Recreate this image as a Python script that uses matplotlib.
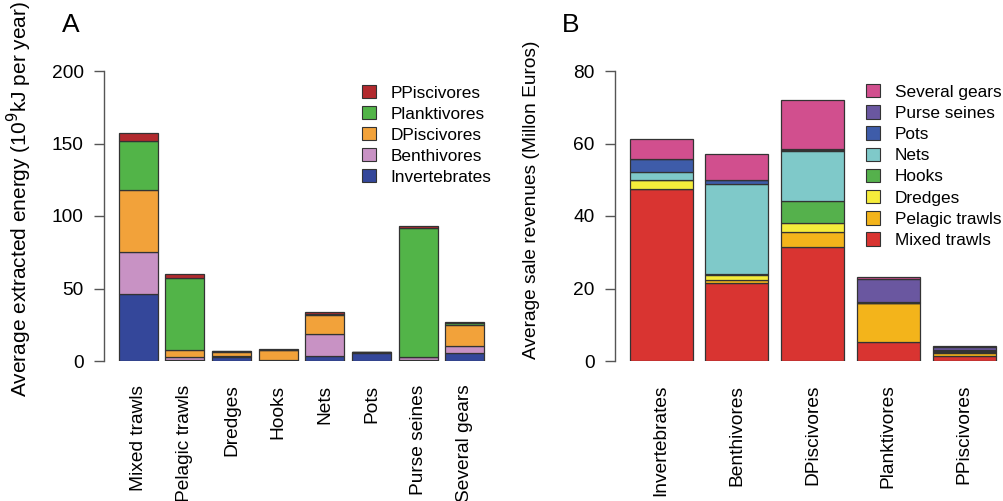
import matplotlib
matplotlib.use("Agg")
import matplotlib.pyplot as plt
from matplotlib.patches import Patch
import numpy as np

plt.rcParams['font.family'] = ['Liberation Sans', 'DejaVu Sans']

# ---- Panel A data (extracted energy by gear) ----
gears = ['Mixed trawls', 'Pelagic trawls', 'Dredges', 'Hooks', 'Nets', 'Pots',
         'Purse seines', 'Several gears']
inv_A = [46, 0.7, 3.0, 0.3, 3.5, 5.8, 0.8, 5.5]
benth_A = [29, 1.8, 0.5, 0.2, 15.0, 0.2, 1.7, 5.0]
dpisc_A = [43, 5.1, 2.8, 7.0, 13.5, 0.1, 0.3, 14.2]
plank_A = [34, 49.7, 0.3, 0.2, 0.5, 0.1, 89.0, 1.5]
ppisc_A = [5, 2.7, 0.5, 0.5, 1.3, 0.1, 1.5, 0.8]
series_A_names = ['Invertebrates', 'Benthivores', 'DPiscivores', 'Planktivores', 'PPiscivores']
series_A_colors = ['#34479A', '#C892C4', '#F2A23A', '#52B448', '#B22A2E']

# ---- Panel B data (sale revenues by functional group) ----
groups = ['Invertebrates', 'Benthivores', 'DPiscivores', 'Planktivores', 'PPiscivores']
mixed_B = [47.4, 21.4, 31.4, 5.2, 1.5]
pelagic_B = [0.1, 0.9, 4.3, 10.7, 0.8]
dredges_B = [2.3, 1.4, 2.5, 0.1, 0.1]
hooks_B = [0.1, 0.2, 6.0, 0.1, 0.1]
nets_B = [2.3, 25.0, 13.7, 0.1, 0.2]
pots_B = [3.4, 0.9, 0.3, 0.1, 0.3]
purse_B = [0.1, 0.1, 0.3, 6.3, 1.0]
several_B = [5.6, 7.1, 13.4, 0.6, 0.2]
series_B_names = ['Mixed trawls', 'Pelagic trawls', 'Dredges', 'Hooks', 'Nets', 'Pots',
                  'Purse seines', 'Several gears']
series_B_colors = ['#D93431', '#F3B41B', '#F5EC3B', '#55B14C', '#7FC9C9', '#3E5CA9',
                   '#6A57A0', '#D14F8E']

W, H = 1004, 501
fig = plt.figure(figsize=(W / 100, H / 100), dpi=100)
fig.patch.set_facecolor('white')

EDGE = '#333333'
TICK_FS = 13.8
LEG_FS = 12.4
AXCOL = '#555555'


def stacked(ax, cats, series, colors):
    x = 0.7 + 1.2 * np.arange(len(cats))
    bottom = np.zeros(len(cats))
    for vals, col in zip(series, colors):
        v = np.array(vals, dtype=float)
        ax.bar(x, v, width=1.0, bottom=bottom, color=col, edgecolor=EDGE,
               linewidth=0.9, zorder=2)
        bottom += v
    ax.set_xticks(x)
    ax.set_xticklabels(cats, rotation=90, fontsize=TICK_FS, va='top', ha='center')
    ax.tick_params(axis='x', length=0, pad=17)
    for s in ['top', 'right', 'bottom']:
        ax.spines[s].set_visible(False)
    ax.spines['left'].set_color(AXCOL)
    ax.spines['left'].set_linewidth(1.0)
    ax.tick_params(axis='y', length=7.5, width=1.0, color=AXCOL, pad=7,
                   labelsize=TICK_FS)


def px_axes(left, right, top, bottom):
    return fig.add_axes([left / W, 1 - bottom / H, (right - left) / W, (bottom - top) / H])


# Panel A
axA = px_axes(104, 499, 71, 361)
stacked(axA, gears, [inv_A, benth_A, dpisc_A, plank_A, ppisc_A], series_A_colors)
axA.set_xlim(0.2 - 0.376, 9.6 + 0.376)
axA.set_ylim(0, 200)
axA.set_yticks([0, 50, 100, 150, 200])
axA.spines['left'].set_bounds(0, 200)

handles_A = [Patch(facecolor=c, edgecolor=EDGE, linewidth=0.8, label=n)
             for n, c in zip(series_A_names, series_A_colors)][::-1]
fig.legend(handles=handles_A, loc='upper left', bbox_to_anchor=(362 / W, 1 - 85 / H),
           frameon=False, fontsize=LEG_FS, handlelength=0.82, handleheight=0.82,
           handletextpad=0.85, labelspacing=0.31, borderpad=0, borderaxespad=0)

# Panel B
axB = px_axes(615, 1004, 71, 361)
stacked(axB, groups, [mixed_B, pelagic_B, dredges_B, hooks_B, nets_B, pots_B,
                      purse_B, several_B], series_B_colors)
axB.set_xlim(-0.032, -0.032 + 389 / 63.1)
axB.set_ylim(0, 80)
axB.set_yticks([0, 20, 40, 60, 80])
axB.spines['left'].set_bounds(0, 80)

handles_B = [Patch(facecolor=c, edgecolor=EDGE, linewidth=0.8, label=n)
             for n, c in zip(series_B_names, series_B_colors)][::-1]
fig.legend(handles=handles_B, loc='upper left', bbox_to_anchor=(866 / W, 1 - 84 / H),
           frameon=False, fontsize=LEG_FS, handlelength=0.82, handleheight=0.82,
           handletextpad=0.85, labelspacing=0.32, borderpad=0, borderaxespad=0)

# Axis labels and panel letters
fig.text(19 / W, 1 - 199 / H, 'Average extracted energy (10$^{9}$kJ per year)',
         rotation=90, ha='center', va='center', fontsize=15)
fig.text(532 / W, 1 - 200 / H, 'Average sale revenues (Millon Euros)',
         rotation=90, ha='center', va='center', fontsize=TICK_FS)
fig.text(71 / W, 1 - 25 / H, 'A', ha='center', va='center', fontsize=19)
fig.text(571 / W, 1 - 25 / H, 'B', ha='center', va='center', fontsize=19)

fig.savefig('out.png', dpi=100, facecolor='white')
